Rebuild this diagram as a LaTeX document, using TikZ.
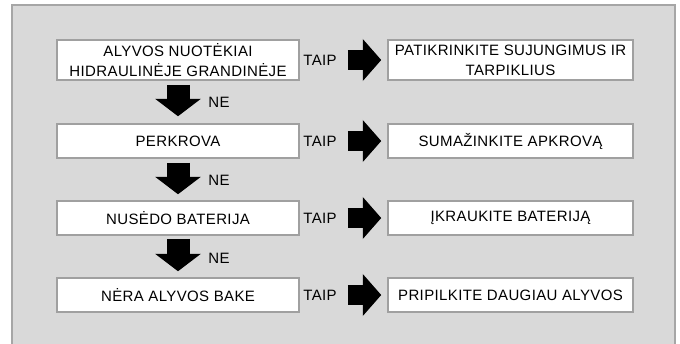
\documentclass[tikz,border=0pt]{standalone}
\usepackage{fontspec}
\setmainfont[LetterSpace=2.5]{Liberation Sans}
\usetikzlibrary{arrows.meta}
\definecolor{panelfill}{HTML}{D9D9D9}
\definecolor{panelline}{HTML}{A6A6A6}
\definecolor{boxline}{HTML}{A0A0A0}
\definecolor{shade}{HTML}{8C8C8C}
\begin{document}
\begin{tikzpicture}[x=1pt,y=-1pt,
  lbox/.style={draw=boxline, line width=1.5pt, fill=white, minimum width=242pt, inner sep=0pt, align=center, font=\fontsize{15}{20}\selectfont},
  rbox/.style={lbox, minimum width=245pt},
  lbl/.style={inner sep=0pt, font=\fontsize{15}{17}\selectfont},
  downshade/.style={line width=23pt, -{Triangle[width=45pt,length=17.5pt]}, shade},
  downarrow/.style={line width=21pt, -{Triangle[width=42pt,length=16pt]}, black},
  rightshade/.style={line width=20pt, -{Triangle[width=41pt,length=18.5pt]}, shade},
  rightarrow/.style={line width=18pt, -{Triangle[width=38pt,length=17pt]}, black}
]
\useasboundingbox (0,0) rectangle (680,343);
\fill[panelfill] (12,5) rectangle (675,350);
\draw[panelline, line width=1.5pt] (12,350) -- (12,5) -- (675,5) -- (675,350);

% left column
\node[lbox, minimum height=40pt] (b1) at (178,60) {ALYVOS NUOTĖKIAI\\HIDRAULINĖJE GRANDINĖJE};
\node[lbox, minimum height=34pt] (b2) at (178,141) {PERKROVA};
\node[lbox, minimum height=34pt] (b3) at (178,218) {NUSĖDO BATERIJA};
\node[lbox, minimum height=34pt] (b4) at (178,295) {NĖRA ALYVOS BAKE};

% right column
\node[rbox, minimum height=40pt] (r1) at (510.5,60) {PATIKRINKITE SUJUNGIMUS IR\\TARPIKLIUS};
\node[rbox, minimum height=34pt] (r2) at (510.5,141) {SUMAŽINKITE APKROVĄ};
\node[rbox, minimum height=34pt] (r3) at (510.5,218) {ĮKRAUKITE BATERIJĄ};
\node[rbox, minimum height=34pt] (r4) at (510.5,295) {PRIPILKITE DAUGIAU ALYVOS};

% TAIP labels
\node[lbl] (t1) at (320,60) {TAIP};
\node[lbl] (t2) at (320,141) {TAIP};
\node[lbl] (t3) at (320,218) {TAIP};
\node[lbl] (t4) at (320,295) {TAIP};

% NE labels
\node[lbl] (n1) at (219,102) {NE};
\node[lbl] (n2) at (219,180) {NE};
\node[lbl] (n3) at (219,258) {NE};

% down arrows (soft gray edge, then black)
\draw[downshade, shorten <=4pt, shorten >=7pt] (b1.south) -- (b2.north);
\draw[downarrow, shorten <=5pt, shorten >=8pt] (b1.south) -- (b2.north);
\draw[downshade, shorten <=4pt, shorten >=6pt] (b2.south) -- (b3.north);
\draw[downarrow, shorten <=5pt, shorten >=7pt] (b2.south) -- (b3.north);
\draw[downshade, shorten <=3pt, shorten >=6pt] (b3.south) -- (b4.north);
\draw[downarrow, shorten <=4pt, shorten >=7pt] (b3.south) -- (b4.north);

% right arrows (soft gray edge, then black)
\foreach \i in {1,2,3,4}{
  \draw[rightshade, shorten <=48pt, shorten >=6pt] (b\i.east) -- (r\i.west);
  \draw[rightarrow, shorten <=49pt, shorten >=7pt] (b\i.east) -- (r\i.west);
}
\end{tikzpicture}
\end{document}
